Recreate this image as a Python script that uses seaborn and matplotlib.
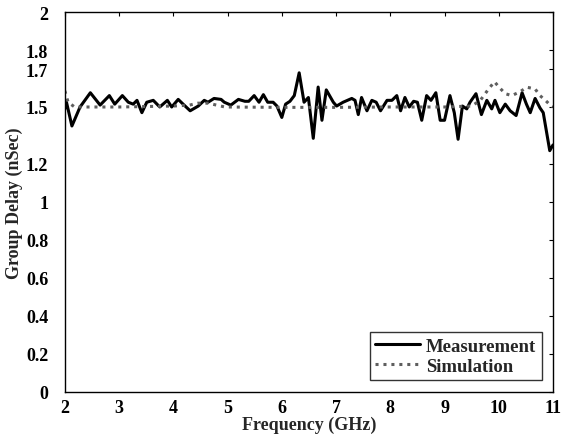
import numpy as np
import pandas as pd
import matplotlib
matplotlib.use("Agg")
import matplotlib.pyplot as plt
import seaborn as sns

# =======================
# Data
# =======================
meas_freq = [2.00, 2.03, 2.13, 2.28, 2.47, 2.65, 2.82, 2.92, 3.06, 3.17, 3.26, 3.33,
             3.42, 3.51, 3.63, 3.75, 3.89, 3.97, 4.09, 4.18, 4.31, 4.46, 4.57, 4.64,
             4.75, 4.88, 4.94, 5.06, 5.20, 5.32, 5.39, 5.49, 5.58, 5.66, 5.74, 5.84,
             5.91, 6.00, 6.07, 6.15, 6.23, 6.32, 6.41, 6.49, 6.58, 6.67, 6.74, 6.82,
             6.95, 7.01, 7.13, 7.29, 7.35, 7.41, 7.47, 7.57, 7.66, 7.74, 7.82, 7.94,
             8.03, 8.12, 8.19, 8.27, 8.35, 8.43, 8.50, 8.58, 8.67, 8.75, 8.84, 8.92,
             9.00, 9.10, 9.18, 9.25, 9.33, 9.41, 9.47, 9.58, 9.68, 9.78, 9.87, 9.93,
             10.02, 10.12, 10.21, 10.32, 10.43, 10.51, 10.58, 10.67, 10.76, 10.82,
             10.94, 11.00]
meas_delay = [1.49, 1.525, 1.40, 1.50, 1.575, 1.51, 1.56, 1.515, 1.56, 1.525, 1.515, 1.535,
              1.47, 1.525, 1.535, 1.50, 1.535, 1.50, 1.54, 1.515, 1.48, 1.505, 1.535, 1.525,
              1.545, 1.54, 1.525, 1.51, 1.54, 1.53, 1.53, 1.56, 1.525, 1.565, 1.525, 1.525,
              1.505, 1.445, 1.515, 1.53, 1.56, 1.68, 1.525, 1.55, 1.335, 1.605, 1.43, 1.59,
              1.525, 1.505, 1.525, 1.545, 1.535, 1.46, 1.55, 1.48, 1.535, 1.525, 1.48, 1.535,
              1.535, 1.56, 1.48, 1.55, 1.50, 1.53, 1.525, 1.43, 1.56, 1.535, 1.575, 1.43,
              1.43, 1.56, 1.47, 1.33, 1.505, 1.49, 1.525, 1.57, 1.46, 1.535, 1.49, 1.535,
              1.47, 1.515, 1.48, 1.455, 1.575, 1.515, 1.47, 1.545, 1.495, 1.47,
              1.27, 1.30]

sim_freq = [2.00, 2.06, 2.18, 3.00, 4.00, 4.30, 4.45, 4.64, 4.95, 6.00, 7.00, 8.00,
            9.00, 9.50, 9.66, 9.80, 9.92, 10.02, 10.12, 10.24, 10.39, 10.52, 10.67,
            10.76, 10.86, 10.95, 11.00]
sim_delay = [1.585, 1.525, 1.50, 1.50, 1.505, 1.51, 1.52, 1.52, 1.50, 1.498, 1.498, 1.50,
             1.50, 1.505, 1.535, 1.59, 1.633, 1.60, 1.57, 1.56, 1.58, 1.604, 1.595,
             1.56, 1.535, 1.51, 1.50]

y_ticks = [0, 0.2, 0.4, 0.6, 0.8, 1, 1.2, 1.5, 1.7, 1.8, 2]
y_tick_labels = ["0", "0.2", "0.4", "0.6", "0.8", "1", "1.2", "1.5", "1.7", "1.8", "2"]
x_ticks = [2, 3, 4, 5, 6, 7, 8, 9, 10, 11]

df_meas = pd.DataFrame({"freq": meas_freq, "delay": meas_delay})
df_sim = pd.DataFrame({"freq": sim_freq, "delay": sim_delay})

# =======================
# Style
# =======================
sns.set_style("white")
plt.rcParams["font.family"] = ["Liberation Serif", "DejaVu Serif"]
plt.rcParams["font.weight"] = "bold"
plt.rcParams["axes.labelweight"] = "bold"

fig = plt.figure(figsize=(5.64, 4.35), dpi=100)
ax = fig.add_axes([0.115, 0.097, 0.8655, 0.873])

sns.lineplot(data=df_meas, x="freq", y="delay", ax=ax, color="black",
             linewidth=2.2, label="Measurement", sort=False)
sns.lineplot(data=df_sim, x="freq", y="delay", ax=ax, color="#5e5e5e",
             linewidth=2.2, linestyle=(0, (1, 1.6)), label="Simulation", sort=False)

ax.set_xlim(2, 11)
ax.set_ylim(0, 2)
ax.set_xticks(x_ticks)
ax.set_xticklabels([str(t) for t in x_ticks])
ax.set_yticks(y_ticks)
ax.set_yticklabels(y_tick_labels)
ax.tick_params(axis="both", direction="in", length=3, width=0.8, top=True, right=True,
               labelsize=13, colors="black")
ax.tick_params(axis="y", pad=12)
ax.tick_params(axis="x", pad=5)
for lab in ax.get_xticklabels() + ax.get_yticklabels():
    lab.set_fontweight("bold")
for sp in ax.spines.values():
    sp.set_color("black")
    sp.set_linewidth(1.0)

ax.set_xlabel("Frequency (GHz)", fontsize=13, fontweight="bold", labelpad=0)
ax.set_ylabel("Group Delay (nSec)", fontsize=13, fontweight="bold", labelpad=2)

leg = ax.legend(loc="lower right", bbox_to_anchor=(0.977, 0.03), borderaxespad=0,
                prop={"size": 13.5, "weight": "bold"}, frameon=True, fancybox=False,
                handlelength=2.4, handletextpad=0.3, borderpad=0.3, labelspacing=0.15)
leg.get_frame().set_edgecolor("black")
leg.get_frame().set_linewidth(1.0)

fig.savefig("out.png", dpi=100)
